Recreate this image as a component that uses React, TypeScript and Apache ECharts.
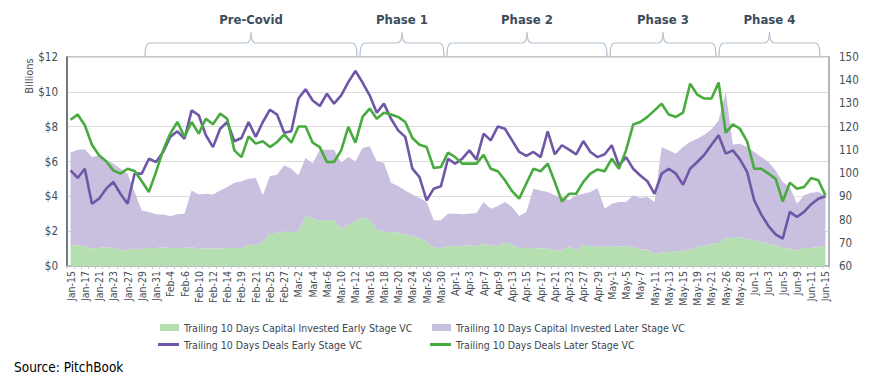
import React, { useEffect, useRef } from "react";
import * as echarts from "echarts";

const xLabels = [
  "Jan-15","Jan-16","Jan-17","Jan-20","Jan-21","Jan-22","Jan-23","Jan-24","Jan-27","Jan-28","Jan-29","Jan-30","Jan-31",
  "Feb-3","Feb-4","Feb-5","Feb-6","Feb-7","Feb-10","Feb-11","Feb-12","Feb-13","Feb-14","Feb-18","Feb-19","Feb-20","Feb-21","Feb-24","Feb-25","Feb-26","Feb-27","Feb-28",
  "Mar-2","Mar-3","Mar-4","Mar-5","Mar-6","Mar-9","Mar-10","Mar-11","Mar-12","Mar-13","Mar-16","Mar-17","Mar-18","Mar-19","Mar-20","Mar-23","Mar-24","Mar-25","Mar-26","Mar-27","Mar-30","Mar-31",
  "Apr-1","Apr-2","Apr-3","Apr-6","Apr-7","Apr-8","Apr-9","Apr-10","Apr-13","Apr-14","Apr-15","Apr-16","Apr-17","Apr-20","Apr-21","Apr-22","Apr-23","Apr-24","Apr-27","Apr-28","Apr-29","Apr-30",
  "May-1","May-4","May-5","May-6","May-7","May-8","May-11","May-12","May-13","May-14","May-15","May-18","May-19","May-20","May-21","May-22","May-26","May-27","May-28","May-29",
  "Jun-1","Jun-2","Jun-3","Jun-4","Jun-5","Jun-8","Jun-9","Jun-10","Jun-11","Jun-12","Jun-15"
];

// Trailing 10 Days Capital Invested Early Stage VC ($B)
const earlyCapital = [
  1.19,1.19,1.15,1.0,1.03,1.09,1.05,0.94,0.92,1.0,0.96,1.03,1.03,1.07,1.03,1.03,1.03,1.07,1.0,1.0,1.0,1.0,
  1.03,1.03,1.03,1.22,1.19,1.38,1.89,1.89,1.99,1.95,1.99,2.87,2.76,2.58,2.66,2.62,2.14,2.37,2.58,2.79,2.68,
  2.05,2.01,1.95,1.91,1.82,1.72,1.61,1.38,1.05,1.03,1.13,1.15,1.13,1.19,1.15,1.28,1.19,1.13,1.34,1.22,1.03,1.03,
  1.03,1.0,1.0,0.9,0.9,1.15,0.9,1.19,1.15,1.11,1.11,1.15,1.11,1.15,1.09,0.96,0.94,0.71,0.77,0.8,0.84,
  0.84,0.96,1.09,1.13,1.28,1.32,1.61,1.61,1.67,1.53,1.47,1.38,1.28,1.19,1.03,1.0,0.9,1.03,1.03,1.09,1.15
];

// Trailing 10 Days Capital Invested Later Stage VC ($B, stacked on early stage)
const laterCapital = [
  5.32,5.49,5.55,5.26,5.32,4.98,4.83,4.65,4.38,3.25,2.23,2.07,1.94,1.88,1.82,1.94,1.97,3.27,3.10,3.15,3.11,3.34,
  3.51,3.75,3.83,3.79,3.86,2.68,3.28,3.35,3.79,3.64,3.22,3.33,3.12,4.10,4.02,4.06,3.79,3.89,3.43,3.99,4.20,
  3.96,3.92,2.83,2.68,2.52,2.38,2.29,2.29,1.57,1.59,1.87,1.85,1.84,1.81,1.89,2.39,2.10,2.31,2.33,2.17,1.84,2.07,
  3.41,3.34,3.25,3.16,3.06,2.62,3.16,2.96,3.10,3.37,2.18,2.43,2.56,2.52,2.97,2.94,3.02,2.96,6.06,5.84,5.61,
  5.99,6.16,6.22,6.41,6.57,7.04,8.38,5.36,5.35,5.30,5.08,4.88,4.69,4.30,3.79,3.54,2.68,3.03,3.18,3.16,2.91
];

// Trailing 10 Days Deals Early Stage VC (right axis)
const earlyDeals = [
  101.2,97.9,101.9,86.8,89.0,93.3,96.2,91.1,86.8,99.8,99.8,106.2,104.8,109.1,115.6,118.0,114.8,127.0,124.9,116.3,111.2,119.1,
  122.0,113.7,115.1,122.0,115.6,122.0,127.3,125.2,117.4,118.0,132.1,136.1,131.3,128.9,134.2,129.9,133.5,139.2,144.0,139.0,133.5,
  126.0,129.9,123.4,118.4,115.6,101.9,98.3,88.3,93.3,94.3,106.2,104.1,106.2,109.8,105.8,117.0,114.1,120.1,119.1,114.1,109.1,107.4,
  109.1,106.9,118.0,108.1,112.0,110.1,108.1,113.8,109.1,106.9,108.1,112.0,103.3,106.9,101.9,99.0,96.5,91.1,99.8,101.9,99.8,
  95.0,101.9,104.8,107.9,112.2,116.3,108.4,109.8,105.9,100.5,88.3,82.1,77.2,73.6,71.8,83.3,81.1,83.3,86.6,89.0,90.0
];

// Trailing 10 Days Deals Later Stage VC (right axis)
const laterDeals = [
  123.0,125.2,120.6,112.2,107.7,105.1,101.2,99.8,101.9,100.9,96.5,91.9,100.5,109.8,117.0,122.0,115.6,122.0,117.0,123.4,121.0,125.6,
  123.4,109.8,106.9,115.8,112.7,113.7,111.2,113.4,116.7,113.1,120.1,120.1,113.1,111.2,104.8,104.8,109.8,119.9,113.1,124.2,127.8,
  123.4,126.0,125.2,124.2,122.0,115.1,112.2,111.2,102.2,102.6,108.8,106.9,104.1,104.1,104.1,107.9,101.9,100.8,96.9,92.2,89.0,95.5,
  101.9,100.8,104.1,96.2,87.8,91.1,91.1,96.2,99.8,101.6,100.8,106.2,101.9,109.8,120.9,122.0,124.2,127.0,129.9,125.2,124.2,
  126.0,138.5,133.8,132.1,132.1,139.0,117.4,121.0,119.1,113.7,101.9,101.9,99.8,97.6,87.8,95.9,93.3,94.0,97.9,96.9,90.4
];

const phaseNames = ["Pre-Covid", "Phase 1", "Phase 2", "Phase 3", "Phase 4"];
const seriesNames = [
  "Trailing 10 Days Capital Invested Early Stage VC",
  "Trailing 10 Days Capital Invested Later Stage VC",
  "Trailing 10 Days Deals Early Stage VC",
  "Trailing 10 Days Deals Later Stage VC",
];

// layout of the phase braces (pixels)
const braceSpans: [number, number][] = [
  [145, 357], [360, 444], [447, 607], [610, 716], [719, 820],
];

const FONT = "'Liberation Sans Narrow', 'DejaVu Sans Condensed', 'Liberation Sans', sans-serif";
const GREEN_AREA = "#b5dfb0";
const PURPLE_AREA = "#c9bfdf";
const GREEN_LINE = "#48ab3e";
const PURPLE_LINE = "#7056a6";
const TEXT = "#454d55";

function bracePath(x1: number, x2: number) {
  const xm = (x1 + x2) / 2;
  const T = 43, B = 56, P = 32, r = 5;
  return `M${x1} ${B} Q${x1} ${T} ${x1 + r} ${T} L${xm - r} ${T} Q${xm} ${T} ${xm} ${P} Q${xm} ${T} ${xm + r} ${T} L${x2 - r} ${T} Q${x2} ${T} ${x2} ${B}`;
}

export default function App() {
  const ref = useRef<HTMLDivElement>(null);
  useEffect(() => {
    if (!ref.current) return;
    braceSpans.forEach(([a, b], i) => {
      echarts.graphic.registerShape("brace" + i, echarts.graphic.extendPath(bracePath(a, b), {}));
    });
    const chart = echarts.init(ref.current, undefined, { renderer: "svg" });
    const graphics: any[] = [];
    braceSpans.forEach(([a, b], i) => {
      graphics.push({
        type: "brace" + i,
        x: 0,
        y: 0,
        silent: true,
        style: { fill: "none", stroke: "#b3c1cd", lineWidth: 1.2 },
      });
      graphics.push({
        type: "text",
        x: (a + b) / 2,
        y: 19,
        style: {
          text: phaseNames[i],
          fill: "#3b4d5c",
          font: `bold 13px ${FONT}`,
          textAlign: "center",
          textVerticalAlign: "middle",
        },
      });
    });
    graphics.push({
      type: "text",
      x: 29,
      y: 76,
      rotation: Math.PI / 2,
      style: {
        text: "Billions",
        fill: TEXT,
        font: `11px ${FONT}`,
        textAlign: "center",
        textVerticalAlign: "middle",
      },
    });
    graphics.push({
      type: "text",
      x: 14,
      y: 367,
      style: {
        text: "Source: PitchBook",
        fill: "#000000",
        font: `13.5px ${FONT}`,
        textAlign: "left",
        textVerticalAlign: "middle",
      },
    });

    const legendText = { color: "#3b4650", fontSize: 10.5, fontFamily: FONT };
    const mkLegend = (name: string, left: number, top: number, isArea: boolean) => ({
      orient: "horizontal",
      left,
      top,
      padding: 0,
      itemWidth: isArea ? 19 : 21,
      itemHeight: isArea ? 7 : 3,
      textStyle: legendText,
      data: [{ name, icon: "rect" }],
    });

    chart.setOption({
      animation: false,
      textStyle: { fontFamily: FONT },
      grid: {
        left: 67,
        right: 48,
        top: 57,
        bottom: 114,
        show: true,
        borderColor: "#a9b2bb",
        borderWidth: 1.5,
        backgroundColor: "transparent",
      },
      legend: [
        mkLegend(seriesNames[0], 160, 322, true),
        mkLegend(seriesNames[2], 158, 339, false),
        mkLegend(seriesNames[1], 432, 322, true),
        mkLegend(seriesNames[3], 430, 339, false),
      ],
      xAxis: {
        type: "category",
        data: xLabels,
        boundaryGap: true,
        axisLine: { show: true, lineStyle: { color: "#a9b2bb", width: 1.5 } },
        axisTick: { show: true, interval: 0, length: 3, lineStyle: { color: "#c4c9ce" } },
        axisLabel: {
          interval: 1,
          rotate: 90,
          fontSize: 10.5,
          color: TEXT,
          margin: 5,
          fontFamily: FONT,
        },
        splitLine: { show: false },
      },
      yAxis: [
        {
          type: "value",
          min: 0,
          max: 12,
          interval: 2,
          position: "left",
          axisLine: { show: true, lineStyle: { color: "#56616b", width: 1.5 } },
          axisTick: { show: false },
          axisLabel: {
            formatter: (v: number) => "$" + v,
            fontSize: 11.5,
            color: TEXT,
            margin: 9,
            fontFamily: FONT,
          },
          splitLine: { show: true, lineStyle: { color: "#dcdcdc", width: 1 } },
        },
        {
          type: "value",
          min: 60,
          max: 150,
          interval: 10,
          position: "right",
          axisLine: { show: true, lineStyle: { color: "#a9b2bb", width: 1.5 } },
          axisTick: { show: false },
          axisLabel: { fontSize: 11.5, color: TEXT, margin: 10, fontFamily: FONT },
          splitLine: { show: false },
        },
      ],
      series: [
        {
          name: seriesNames[0],
          type: "line",
          yAxisIndex: 0,
          stack: "capital",
          data: earlyCapital,
          symbol: "none",
          lineStyle: { width: 0 },
          itemStyle: { color: GREEN_AREA },
          areaStyle: { color: GREEN_AREA, opacity: 1 },
          emphasis: { disabled: true },
        },
        {
          name: seriesNames[1],
          type: "line",
          yAxisIndex: 0,
          stack: "capital",
          data: laterCapital,
          symbol: "none",
          lineStyle: { width: 0 },
          itemStyle: { color: PURPLE_AREA },
          areaStyle: { color: PURPLE_AREA, opacity: 1 },
          emphasis: { disabled: true },
        },
        {
          name: seriesNames[2],
          type: "line",
          yAxisIndex: 1,
          data: earlyDeals,
          symbol: "none",
          itemStyle: { color: PURPLE_LINE },
          lineStyle: { color: PURPLE_LINE, width: 2.6 },
          emphasis: { disabled: true },
        },
        {
          name: seriesNames[3],
          type: "line",
          yAxisIndex: 1,
          data: laterDeals,
          symbol: "none",
          itemStyle: { color: GREEN_LINE },
          lineStyle: { color: GREEN_LINE, width: 2.6 },
          emphasis: { disabled: true },
        },
      ],
      graphic: graphics,
    });
    return () => chart.dispose();
  }, []);
  return (
    <div
      ref={ref}
      style={{ position: "fixed", left: 0, top: 0, width: 877, height: 380, background: "#ffffff" }}
    />
  );
}
